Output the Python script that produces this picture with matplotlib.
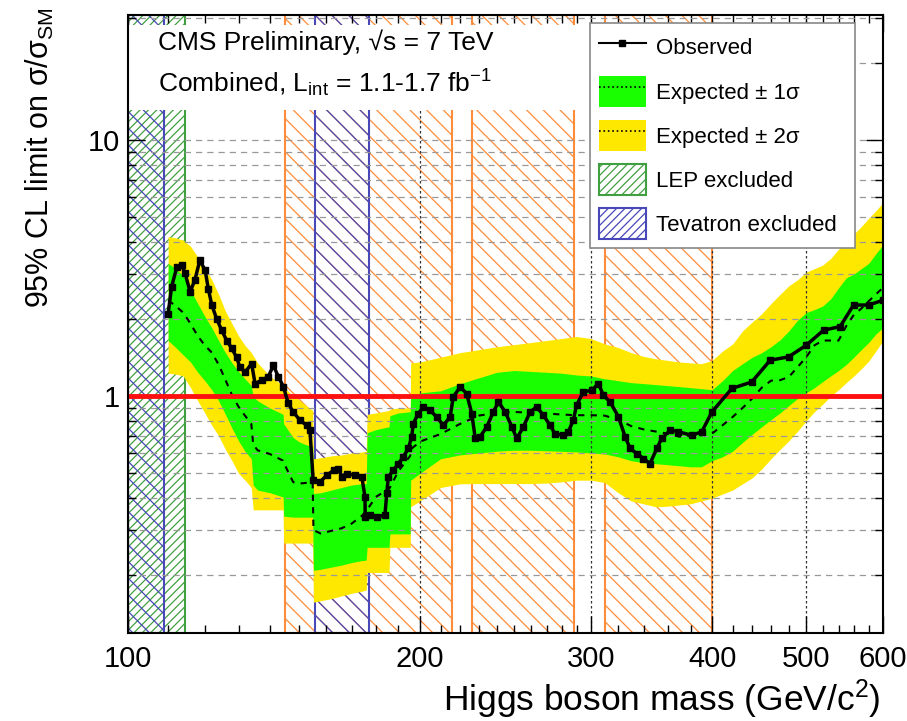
import numpy as np
import matplotlib
matplotlib.use("Agg")
import matplotlib.pyplot as plt
from matplotlib.ticker import FixedLocator, FixedFormatter, NullFormatter
from matplotlib.patches import Patch, Rectangle
from matplotlib.lines import Line2D

plt.rcParams['font.family'] = ['Liberation Sans', 'DejaVu Sans']
plt.rcParams['mathtext.fontset'] = 'custom'
plt.rcParams['mathtext.rm'] = 'Liberation Sans'
plt.rcParams['mathtext.it'] = 'Liberation Sans:italic'
plt.rcParams['hatch.linewidth'] = 0.9

# expected limit and bands (shared mass grid)
m_grid = [110, 112, 114, 116, 118, 120, 122, 124, 126, 128,
          130, 132, 134, 134.6, 136, 140, 144.5, 144.7, 148, 150,
          152, 155, 155.3, 158, 162, 166, 170, 174, 176, 176.4,
          180, 185.8, 186.2, 190, 195.4, 195.6, 200, 210, 220, 230,
          240, 250, 260, 270, 280, 290, 300, 310, 320, 330,
          340, 350, 360, 370, 380, 390, 400, 410, 420, 430,
          440, 450, 460, 470, 480, 490, 500, 510, 520, 530,
          540, 550, 560, 570, 580, 590, 600]
exp_med = [2.37, 2.25, 2.12, 1.92, 1.72, 1.58, 1.48, 1.33, 1.16, 1.01,
           0.91, 0.84, 0.78, 0.65, 0.615, 0.595, 0.56, 0.55, 0.462, 0.456,
           0.458, 0.463, 0.30, 0.291, 0.298, 0.305, 0.318, 0.34, 0.355, 0.36,
           0.404, 0.435, 0.44, 0.51, 0.585, 0.62, 0.665, 0.712, 0.78, 0.84,
           0.862, 0.868, 0.862, 0.856, 0.848, 0.843, 0.843, 0.84, 0.81, 0.765,
           0.742, 0.728, 0.714, 0.695, 0.70, 0.705, 0.715, 0.77, 0.83, 0.90,
           0.98, 1.08, 1.15, 1.155, 1.19, 1.3, 1.42, 1.58, 1.65, 1.65,
           1.65, 1.88, 2.08, 2.2, 2.35, 2.5, 2.65]
exp_p1 = [3.3, 3.15, 2.95, 2.6, 2.3, 2.05, 1.85, 1.65, 1.48, 1.35,
          1.25, 1.17, 1.1, 1.0, 0.96, 0.9, 0.85, 0.78, 0.69, 0.665,
          0.65, 0.634, 0.417, 0.42, 0.43, 0.44, 0.45, 0.455, 0.456, 0.72,
          0.74, 0.76, 0.84, 0.86, 0.87, 1.0, 1.03, 1.05, 1.12, 1.18,
          1.24, 1.26, 1.25, 1.24, 1.23, 1.21, 1.2, 1.17, 1.15, 1.13,
          1.12, 1.11, 1.1, 1.09, 1.08, 1.07, 1.06, 1.15, 1.26, 1.34,
          1.42, 1.48, 1.56, 1.66, 1.8, 1.98, 2.12, 2.18, 2.25, 2.4,
          2.65, 2.9, 3.0, 3.15, 3.3, 3.6, 3.9]
exp_m1 = [1.65, 1.55, 1.45, 1.36, 1.24, 1.15, 1.06, 0.96, 0.85, 0.75,
          0.67, 0.61, 0.57, 0.45, 0.43, 0.42, 0.404, 0.34, 0.337, 0.337,
          0.337, 0.337, 0.209, 0.211, 0.215, 0.219, 0.224, 0.228, 0.229, 0.257,
          0.257, 0.257, 0.29, 0.29, 0.29, 0.47, 0.5, 0.57, 0.59, 0.60,
          0.61, 0.615, 0.615, 0.612, 0.609, 0.606, 0.60, 0.595, 0.58, 0.56,
          0.55, 0.545, 0.54, 0.535, 0.53, 0.53, 0.56, 0.58, 0.61, 0.66,
          0.71, 0.76, 0.81, 0.86, 0.92, 0.98, 1.03, 1.08, 1.14, 1.2,
          1.26, 1.33, 1.42, 1.52, 1.62, 1.75, 1.85]
exp_p2 = [4.2, 4.15, 4.07, 3.85, 3.5, 3.2, 2.85, 2.5, 2.15, 1.92,
          1.72, 1.58, 1.48, 1.44, 1.35, 1.2, 1.1, 1.09, 1.0, 0.97,
          0.93, 0.88, 0.57, 0.575, 0.585, 0.59, 0.6, 0.605, 0.61, 0.85,
          0.86, 0.88, 0.89, 0.9, 0.9, 1.35, 1.36, 1.42, 1.48, 1.52,
          1.56, 1.59, 1.62, 1.65, 1.68, 1.71, 1.68, 1.6, 1.55, 1.48,
          1.43, 1.4, 1.38, 1.36, 1.35, 1.34, 1.38, 1.5, 1.6, 1.8,
          1.95, 2.1, 2.3, 2.5, 2.7, 2.85, 3.05, 3.15, 3.25, 3.45,
          3.75, 4.0, 4.3, 4.6, 4.95, 5.3, 5.7]
exp_m2 = [1.23, 1.22, 1.2, 1.08, 0.96, 0.86, 0.77, 0.7, 0.62, 0.56,
          0.5, 0.47, 0.44, 0.36, 0.36, 0.36, 0.36, 0.267, 0.267, 0.267,
          0.267, 0.267, 0.157, 0.159, 0.162, 0.166, 0.17, 0.173, 0.175, 0.205,
          0.205, 0.205, 0.257, 0.257, 0.257, 0.37, 0.39, 0.44, 0.455, 0.456,
          0.456, 0.456, 0.456, 0.458, 0.463, 0.47, 0.47, 0.46, 0.42, 0.39,
          0.38, 0.37, 0.372, 0.376, 0.38, 0.39, 0.40, 0.415, 0.43, 0.455,
          0.48, 0.52, 0.57, 0.62, 0.67, 0.73, 0.8, 0.87, 0.93, 1.0,
          1.06, 1.13, 1.2, 1.28, 1.37, 1.5, 1.65]

# observed limit
obs_m = [110, 110.9, 112.3, 113.6, 114.5, 115.9, 117.2, 118.6, 120.1, 121.0,
         122.0, 123.4, 124.9, 126.4, 127.9, 129.4, 130.4, 132.0, 134.1, 135.2,
         137.4, 139.5, 141.2, 142.9, 144.6, 146.3, 148.0, 150.4, 152.8, 154.0,
         155.2, 157.7, 160.3, 162.9, 164.8, 166.1, 168.0, 171.4, 174.2, 175.5,
         175.6, 177.6, 180.4, 184.0, 184.8, 185.5, 187.7, 190.0, 192.2, 194.5,
         196.1, 196.8, 199.2, 201.6, 204.8, 208.0, 211.4, 214.8, 216.4, 220.0,
         223.4, 226.1, 228.0, 230.6, 234.3, 238.0, 240.9, 244.8, 248.7, 251.6,
         255.6, 259.7, 263.8, 268.0, 272.3, 275.4, 281.0, 284.4, 287.7, 290.0,
         294.6, 300.6, 305.4, 309.0, 314.0, 320.3, 325.4, 329.3, 334.6, 339.8,
         345.2, 350.8, 354.9, 362.1, 369.3, 381.2, 390.3, 399.8, 419.2, 439.5,
         459.1, 479.5, 500, 521.1, 542, 559.5, 579.9, 600]
obs_v = [2.10, 2.67, 3.20, 3.25, 3.02, 2.56, 2.84, 3.40, 3.10, 2.63,
         2.27, 2.01, 1.81, 1.65, 1.54, 1.42, 1.30, 1.24, 1.34, 1.12,
         1.155, 1.19, 1.32, 1.19, 1.09, 0.937, 0.868, 0.806, 0.770, 0.737,
         0.47, 0.463, 0.491, 0.514, 0.522, 0.484, 0.499, 0.491, 0.484, 0.404,
         0.338, 0.343, 0.338, 0.343, 0.417, 0.484, 0.514, 0.546, 0.579, 0.625,
         0.694, 0.782, 0.856, 0.908, 0.882, 0.830, 0.770, 0.830, 0.994, 1.087,
         1.024, 0.856, 0.684, 0.694, 0.759, 0.868, 0.950, 0.868, 0.759, 0.684,
         0.759, 0.868, 0.908, 0.843, 0.770, 0.715, 0.704, 0.726, 0.806, 0.922,
         1.039, 1.055, 1.121, 1.009, 0.950, 0.830, 0.694, 0.625, 0.597, 0.571,
         0.546, 0.625, 0.684, 0.737, 0.726, 0.704, 0.726, 0.868, 1.072, 1.137,
         1.382, 1.424, 1.58, 1.81, 1.87, 2.27, 2.27, 2.37]

# excluded mass ranges (GeV)
cms_excl = [(145, 216), (226, 288), (310, 400)]
lep_excl = (100, 114.4)
tev_excl = [(100, 109), (156, 177)]

c_green = '#1aff00'
c_yellow = '#ffe800'
c_orange = '#ff8c3a'
c_lep = '#40a040'
c_tev = '#4848b8'

fig = plt.figure(figsize=(9.07, 7.21), dpi=100)
ax = fig.add_axes([0.1411, 0.1221, 0.8324, 0.8571])
ax.set_xscale('log')
ax.set_yscale('log')

# exclusion hatches
for lo, hi in cms_excl:
    ax.axvspan(lo, hi, facecolor='none', edgecolor=c_orange, hatch='\\\\',
               lw=1.5, zorder=0.5)
ax.axvspan(*lep_excl, facecolor='none', edgecolor=c_lep, hatch='////',
           lw=1.5, zorder=0.6)
for lo, hi in tev_excl:
    ax.axvspan(lo, hi, facecolor='none', edgecolor=c_tev, hatch='\\\\',
               lw=1.5, zorder=0.7)

# bands
ax.fill_between(m_grid, exp_m2, exp_p2, color=c_yellow, lw=0, zorder=1)
ax.fill_between(m_grid, exp_m1, exp_p1, color=c_green, lw=0, zorder=1.1)
ax.plot(m_grid, exp_med, color='k', ls=(0, (3, 3)), lw=1.5, zorder=3)

ax.axhline(1.0, color='#ff1010', lw=3.5, zorder=3.5)
ax.plot(obs_m, obs_v, color='k', lw=2.5, marker='s', ms=5, zorder=4)

ax.set_xlim(100, 600)
ax.set_ylim(0.119, 30.8)

ax.xaxis.set_major_locator(FixedLocator([100, 200, 300, 400, 500, 600]))
ax.xaxis.set_major_formatter(FixedFormatter(['100', '200', '300', '400', '500', '600']))
ax.xaxis.set_minor_locator(FixedLocator(list(range(110, 300, 10)) + list(range(320, 600, 20))))
ax.xaxis.set_minor_formatter(NullFormatter())
ax.yaxis.set_major_locator(FixedLocator([1, 10]))
ax.yaxis.set_major_formatter(FixedFormatter(['1', '10']))
ax.yaxis.set_minor_locator(FixedLocator([0.2, 0.3, 0.4, 0.5, 0.6, 0.7, 0.8, 0.9,
                                         2, 3, 4, 5, 6, 7, 8, 9, 20, 30]))
ax.yaxis.set_minor_formatter(NullFormatter())

ax.tick_params(which='both', direction='in', top=True, right=True, labelsize=21)
ax.tick_params(which='major', length=12, width=1)
ax.tick_params(which='minor', length=6, width=1)
ax.tick_params(axis='x', pad=9)
ax.tick_params(axis='y', pad=6)

ax.set_axisbelow(False)
ax.grid(which='both', axis='y', color='#999999', ls=(0, (5, 4)), lw=0.9)
ax.grid(which='major', axis='x', color='#333333', ls=(0, (2, 2)), lw=0.9)
for s in ax.spines.values():
    s.set_linewidth(1.5)
    s.set_zorder(6)

# white box behind the header text
ax.add_patch(Rectangle((0, 0.846), 0.612, 0.138, transform=ax.transAxes,
                       facecolor='white', edgecolor='none', zorder=4.5))
ax.text(0.04, 0.956, 'CMS Preliminary, √s = 7 TeV', transform=ax.transAxes,
        fontsize=19, va='center', ha='left', zorder=5)
ax.text(0.04, 0.89, r'Combined, L$_{\mathrm{int}}$ = 1.1-1.7 fb$^{\mathrm{-1}}$',
        transform=ax.transAxes, fontsize=19, va='center', ha='left', zorder=5)

handles = [
    Line2D([], [], color='k', lw=1.5, marker='s', ms=5),
    (Patch(facecolor=c_green, edgecolor='none'), Line2D([], [], color='k', ls=':', lw=1.2)),
    (Patch(facecolor=c_yellow, edgecolor='none'), Line2D([], [], color='k', ls=':', lw=1.2)),
    Patch(facecolor='white', edgecolor=c_lep, hatch='////', lw=1.5),
    Patch(facecolor='white', edgecolor=c_tev, hatch='////', lw=1.5),
]
labels = ['Observed', 'Expected ± 1σ', 'Expected ± 2σ', 'LEP excluded', 'Tevatron excluded']
leg = ax.legend(handles, labels, loc='upper left',
                bbox_to_anchor=(0.612, 0.631, 0.351, 0.356), mode='expand',
                fontsize=16, frameon=True, fancybox=False, framealpha=1,
                edgecolor='#888888', handlelength=2.1, handleheight=1.75,
                handletextpad=0.45, labelspacing=0.6, borderpad=0.4,
                borderaxespad=0)
leg.get_frame().set_linewidth(1.2)
leg.set_zorder(7)

fig.text(0.971, 0.03, 'Higgs boson mass (GeV/c$^{\\mathrm{2}}$)', fontsize=25.5,
         ha='right', va='center')
fig.text(0.044, 0.99, '95% CL limit on σ/σ$_{\\mathrm{SM}}$', fontsize=22,
         rotation=90, ha='center', va='top')

fig.savefig('out.png', dpi=100)
